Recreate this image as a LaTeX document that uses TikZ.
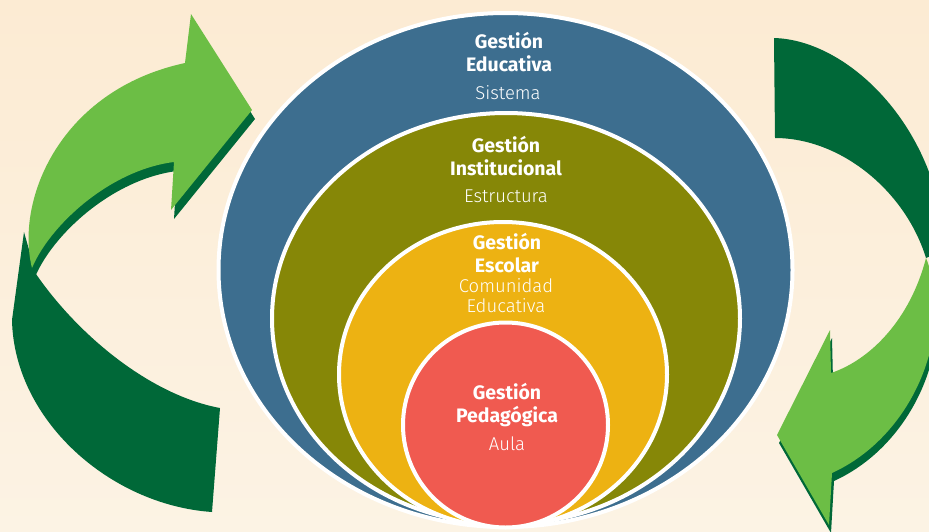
\documentclass[tikz,border=0pt]{standalone}
\usepackage{fontspec}
\setmainfont{Fira Sans}
\newfontfamily\finafont{Fira Sans Light}

\definecolor{fondoA}{RGB}{252,235,211}
\definecolor{fondoB}{RGB}{252,243,228}
\definecolor{azul}{RGB}{61,110,143}
\definecolor{oliva}{RGB}{134,135,7}
\definecolor{amarillo}{RGB}{237,178,18}
\definecolor{rojo}{RGB}{240,90,80}
\definecolor{verdeclaro}{RGB}{108,190,69}
\definecolor{verdeoscuro}{RGB}{0,104,56}

\tikzset{
  anillo/.style={draw=white,line width=4pt},
  titulo/.style={text=white,font=\fontsize{19.5}{23.5}\selectfont\bfseries,align=center,inner sep=0pt},
  subtitulo/.style={text=white,font=\finafont\fontsize{18.5}{20}\selectfont,align=center,inner sep=0pt}
}

\begin{document}
\begin{tikzpicture}[x=1pt,y=-1pt]
        \useasboundingbox (0,0) rectangle (929,531);
        \clip (0,0) rectangle (929,531);
        \shade[top color=fondoA,bottom color=fondoB] (0,0) rectangle (929,531);

        % left arrow, lower dark band
        \fill[verdeoscuro] (24,232) -- (12,320) .. controls (14,420) and (110,505) .. (212,512)
                -- (220,408) .. controls (150,395) and (78,335) .. (36,274) -- cycle;

        % left arrow, shadow and head
        \fill[verdeoscuro,shift={(3,9)}] (32,268) .. controls (15,200) and (60,90) .. (185,63)
                -- (191,14) -- (252,110) -- (171,210) -- (174,162)
                .. controls (110,170) and (50,225) .. (32,268) -- cycle;
        \fill[verdeclaro] (32,268) .. controls (15,200) and (60,90) .. (185,63)
                -- (191,14) -- (252,110) -- (171,210) -- (174,162)
                .. controls (110,170) and (50,225) .. (32,268) -- cycle;

        % right arrow, upper dark band
        \fill[verdeoscuro] (774,38) -- (775,138) .. controls (840,138) and (905,190) .. (926,258)
                -- (945,250) .. controls (940,130) and (850,40) .. (774,38) -- cycle;

        % right arrow, shadow and head
        \fill[verdeoscuro,shift={(2,8)}] (926,258) .. controls (955,330) and (915,435) .. (832,473)
                -- (829,525) -- (777,435) -- (830,330) -- (831,373)
                .. controls (870,360) and (910,320) .. (926,258) -- cycle;
        \fill[verdeclaro] (926,258) .. controls (955,330) and (915,435) .. (832,473)
                -- (829,525) -- (777,435) -- (830,330) -- (831,373)
                .. controls (870,360) and (910,320) .. (926,258) -- cycle;

        % rings
        \draw[anillo,fill=azul] (505.5,270) ellipse [x radius=287pt, y radius=257pt];
        \draw[anillo,fill=oliva] (506,318.5) ellipse [x radius=234pt, y radius=205.5pt];
        \draw[anillo,fill=amarillo] (503,374.5) ellipse [x radius=164pt, y radius=152.5pt];
        \draw[anillo,fill=rojo] (505.5,425) circle [radius=102.5pt];

        % labels
        \node[titulo] (educativa) at (509,52) {Gestión\\Educativa};
        \node[subtitulo] (sistema) at (508,93) {Sistema};

        \node[titulo] (institucional) at (506,156) {Gestión\\Institucional};
        \node[subtitulo] (estructura) at (506,196) {Estructura};

        \node[titulo] (escolar) at (507,253) {Gestión\\Escolar};
        \node[subtitulo] (comunidad) at (506,296) {Comunidad\\Educativa};

        \node[titulo] (pedagogica) at (507,405) {Gestión\\Pedagógica};
        \node[subtitulo] (aula) at (507,444) {Aula};
\end{tikzpicture}
\end{document}
